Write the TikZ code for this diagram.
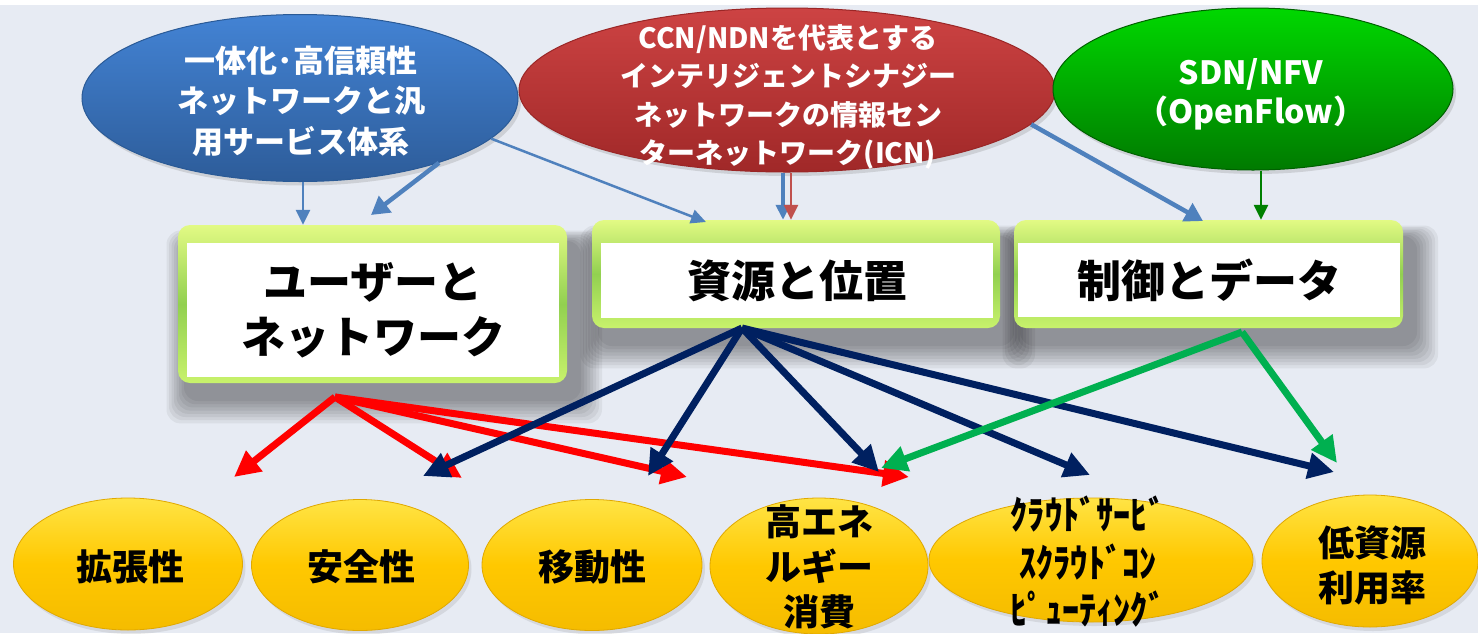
\documentclass[tikz,border=0pt]{standalone}
\usepackage{fontspec}
\setmainfont{Noto Sans CJK JP}
\usetikzlibrary{arrows.meta,shapes.geometric,shadows}
\definecolor{bgc}{HTML}{E7EBF3}
\definecolor{steel}{HTML}{4F81BD}
\definecolor{navyc}{HTML}{002060}
\definecolor{redc}{HTML}{FF0000}
\definecolor{greenc}{HTML}{00B050}
\definecolor{dgreen}{HTML}{008000}
\definecolor{bluetop}{HTML}{4383D4}
\definecolor{bluebot}{HTML}{2D5C99}
\definecolor{blueedge}{HTML}{2A5A96}
\definecolor{redtop}{HTML}{CD4343}
\definecolor{redbot}{HTML}{A02828}
\definecolor{rededge}{HTML}{9A2626}
\definecolor{grntop}{HTML}{00D800}
\definecolor{grnbot}{HTML}{007A00}
\definecolor{grnedge}{HTML}{006000}
\definecolor{limetop}{HTML}{E2FA84}
\definecolor{limemid}{HTML}{92D050}
\definecolor{limebot}{HTML}{C8F26C}
\definecolor{ytop}{HTML}{FFE445}
\definecolor{ymid}{HTML}{FFC800}
\definecolor{ybot}{HTML}{F5BC00}
\definecolor{yedge}{HTML}{E0A800}
\definecolor{iconred}{HTML}{C0504D}

\newcommand\myboxshadow[4]{%
  \foreach \i in {0,...,7}{%
    \fill[black,opacity=0.055,rounded corners=14pt]
      ({#1+6-\i*2.5},{#2+16-\i*1.5}) rectangle ({#3+14+\i*3},{#4+18+\i*3.2});
  }%
}

\begin{document}
\begin{tikzpicture}[x=1pt,y=-1pt,
  topell/.style={ellipse,inner sep=0pt,line width=1pt,
    drop shadow={opacity=0.25,shadow xshift=3pt,shadow yshift=-4pt}},
  blueell/.style={topell,top color=bluetop,bottom color=bluebot,draw=blueedge},
  redell/.style={topell,top color=redtop,bottom color=redbot,draw=rededge},
  greenell/.style={topell,top color=grntop,bottom color=grnbot,draw=grnedge},
  toptext/.style={inner sep=0pt,align=center,text=white},
  frame/.style={rectangle,rounded corners=12pt,inner sep=0pt,
    top color=limetop,bottom color=limebot,middle color=limemid},
  inbox/.style={rectangle,fill=white,inner sep=0pt,align=center,
    font=\bfseries\fontsize{44}{55}\selectfont},
  yell/.style={ellipse,inner sep=0pt,draw=yedge,line width=0.8pt,
    top color=ytop,bottom color=ybot,middle color=ymid,
    drop shadow={opacity=0.18,shadow xshift=3pt,shadow yshift=-4pt}},
  ytext/.style={inner sep=0pt,align=center,font=\bfseries\fontsize{36}{45}\selectfont},
  thinarr/.style={line width=2.5pt,-{Triangle[length=15pt,width=14pt]}},
  medarr/.style={line width=4.5pt,-{Triangle[length=18pt,width=20pt]}},
  bigarr/.style={line width=7pt,-{Triangle[length=26pt,width=25pt]}},
]
\useasboundingbox (0,0) rectangle (1478,633);
\fill[white] (0,0) rectangle (1478,633);
\fill[bgc] (0,5) rectangle (1478,633);

% ---- box shadows
\myboxshadow{178}{225}{567}{383}
\myboxshadow{592}{220}{1000}{328}
\myboxshadow{1014}{220}{1403}{328}

% ---- frames and inner boxes
\node[frame,minimum width=389pt,minimum height=158pt] (f1) at (372.5,304) {};
\node[inbox,minimum width=372pt,minimum height=134pt] (i1) at (373,310) {ユーザーと\\ネットワーク};
\node[frame,minimum width=408pt,minimum height=108pt] (f2) at (796,274) {};
\node[inbox,minimum width=392pt,minimum height=75pt] (i2) at (797,280.5) {資源と位置};
\node[frame,minimum width=389pt,minimum height=108pt] (f3) at (1208.5,274) {};
\node[inbox,minimum width=382pt,minimum height=74pt] (i3) at (1209,280) {制御とデータ};

% ---- top ellipses
\node[blueell,minimum width=436pt,minimum height=167pt] (eb) at (300,98) {};
\node[toptext,font=\bfseries\fontsize{31}{40.5}\selectfont] (ebt) at (301,101) {一体化･高信頼性\\ネットワークと汎\\用サービス体系};
\node[redell,minimum width=536pt,minimum height=164pt] (er) at (787,90) {};
\node[toptext,font=\bfseries\fontsize{28}{38.5}\selectfont] (ert) at (788,97) {CCN/NDNを代表とする\\インテリジェントシナジー\\ネットワークの情報セン\\ターネットワーク(ICN)};
\node[greenell,minimum width=400pt,minimum height=162pt] (eg) at (1253,89) {};
\node[toptext,font=\bfseries\fontsize{32}{39}\selectfont] (egt) at (1251,94) {SDN/NFV\\（OpenFlow）};

% ---- bottom ellipses
\node[yell,minimum width=229pt,minimum height=132pt] (y1) at (128,564) {};
\node[ytext] (y1t) at (130,567) {拡張性};
\node[yell,minimum width=217pt,minimum height=131pt] (y2) at (360,565) {};
\node[ytext] (y2t) at (361,567) {安全性};
\node[yell,minimum width=220pt,minimum height=131pt] (y3) at (592,565) {};
\node[ytext] (y3t) at (592,567) {移動性};
\node[yell,minimum width=218pt,minimum height=136pt] (y4) at (819,566) {};
\node[ytext] (y4t) at (819,567) {高エネ\\ルギー\\消費};
\node[yell,minimum width=324pt,minimum height=124pt] (y5) at (1091,560) {};
\node[inner sep=0pt] (y5t) at (1088,567) {\scalebox{0.88}[1]{\bfseries\fontsize{39}{45}\selectfont\begin{tabular}{@{}c@{}}ｸﾗｳﾄﾞｻｰﾋﾞ\\ｽｸﾗｳﾄﾞｺﾝ\\ﾋﾟｭｰﾃｨﾝｸﾞ\end{tabular}}};
\node[yell,minimum width=216pt,minimum height=132pt] (y6) at (1370,561) {};
\node[ytext] (y6t) at (1372,565) {低資源\\利用率};

% ---- upper connectors
\coordinate (c2) at (371,215);
\coordinate (c3) at (706,222);
\coordinate (c5) at (1203,221);
\draw[thinarr,steel] ([xshift=3pt]eb.south) -- ([xshift=3pt]eb.south |- f1.north);
\draw[medarr,steel] (eb.-25) -- (c2);
\draw[thinarr,steel] (eb.-12) -- (c3);
\draw[medarr,steel,-{Triangle[length=15pt,width=14pt]}] ([xshift=-4pt]er.south) -- ([xshift=-4pt]er.south |- f2.north);
\draw[thinarr,iconred] ([xshift=4pt]er.south) -- ([xshift=4pt]er.south |- f2.north);
\draw[medarr,steel] (er.-8) -- (c5);
\draw[thinarr,dgreen] ([xshift=8pt]eg.south) -- ([xshift=8pt]eg.south |- f3.north);

% ---- lower connectors
\coordinate (rs) at (335,397);
\coordinate (ns) at (742,328);
\coordinate (gs) at (1242,332);
\coordinate (r1) at (234,477);
\coordinate (r2) at (462,478);
\coordinate (r3) at (687,477);
\coordinate (r4) at (909,477);
\coordinate (n2) at (423,476);
\coordinate (n3) at (648,476);
\coordinate (n4) at (879,472);
\coordinate (n5) at (1090,475);
\coordinate (n6) at (1334,472);
\coordinate (g4) at (881,468);
\coordinate (g6) at (1337,463);
\foreach \t in {r1,r2,r3,r4} \draw[bigarr,redc] (rs) -- (\t);
\foreach \t in {n2,n3,n4,n5,n6} \draw[bigarr,navyc] (ns) -- (\t);
\foreach \t in {g4,g6} \draw[bigarr,greenc] (gs) -- (\t);
\end{tikzpicture}
\end{document}
